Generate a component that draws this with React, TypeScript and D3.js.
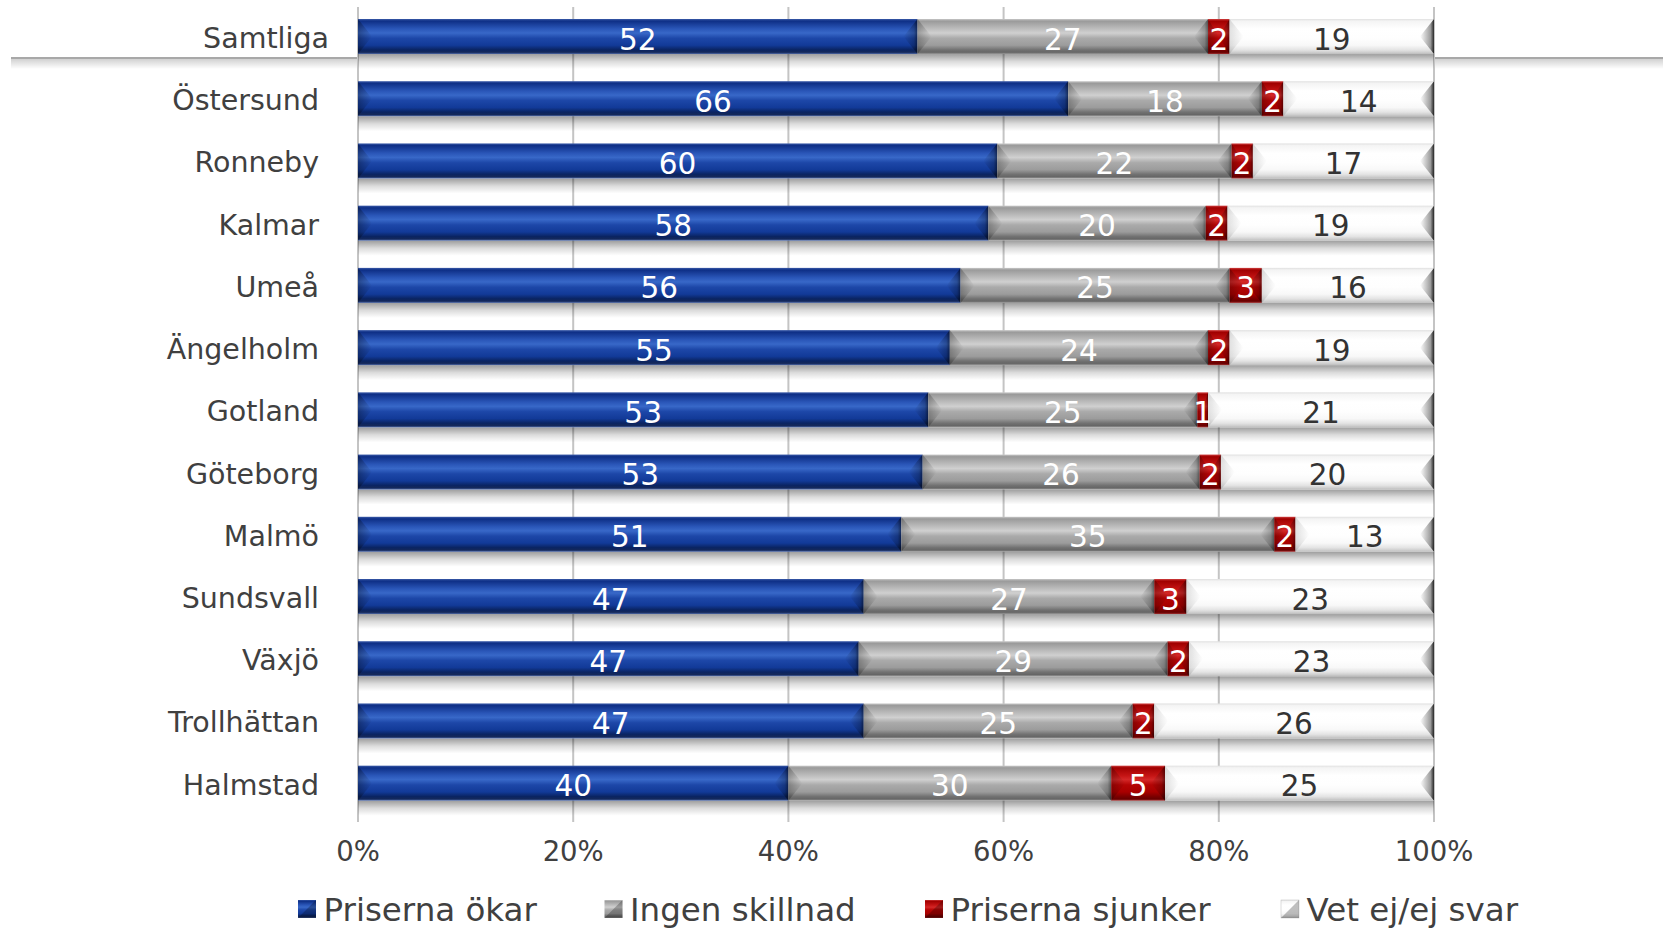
import React from "react";
import * as d3 from "d3";

const categories = ["Samtliga","Östersund","Ronneby","Kalmar","Umeå","Ängelholm","Gotland","Göteborg","Malmö","Sundsvall","Växjö","Trollhättan","Halmstad"];
const seriesNames = ["Priserna ökar","Ingen skillnad","Priserna sjunker","Vet ej/ej svar"];
const okar = [52,66,60,58,56,55,53,53,51,47,47,47,40];
const ingen = [27,18,22,20,25,24,25,26,35,27,29,25,30];
const sjunker = [2,2,2,2,3,2,1,2,2,3,2,2,5];
const vetej = [19,14,17,19,16,19,21,20,13,23,23,26,25];
const xTicks = [0,0.2,0.4,0.6,0.8,1];

const W = 1663, H = 931;
const FONT = "'DejaVu Sans', Verdana, sans-serif";

type Grad = { id: string; stops: [number, string][]; text: string; rightBevel: number; leftBevel: number };
const grads: Grad[] = [
  { id: "g0", text: "#ffffff", rightBevel: 0.55, leftBevel: 0.3,
    stops: [[0,"#3a5aa8"],[0.06,"#0e2f86"],[0.28,"#2a56b8"],[0.4,"#3868c8"],[0.55,"#1d47a8"],[0.75,"#123a98"],[0.88,"#0a2462"],[0.95,"#14285a"],[1,"#4f6aa8"]] },
  { id: "g1", text: "#ffffff", rightBevel: 0.5, leftBevel: 0.25,
    stops: [[0,"#c8c8c8"],[0.06,"#9a9a9a"],[0.28,"#bdbdbd"],[0.4,"#d0d0d0"],[0.55,"#aaaaaa"],[0.75,"#9c9c9c"],[0.88,"#727272"],[0.95,"#666666"],[1,"#9a9a9a"]] },
  { id: "g2", text: "#ffffff", rightBevel: 0.5, leftBevel: 0.25,
    stops: [[0,"#d04040"],[0.06,"#a00000"],[0.28,"#c41414"],[0.4,"#d42828"],[0.55,"#b40404"],[0.75,"#a80000"],[0.88,"#7c0000"],[0.95,"#680000"],[1,"#a03030"]] },
  { id: "g3", text: "#333333", rightBevel: 0.85, leftBevel: 0.12,
    stops: [[0,"#e0e0e0"],[0.06,"#f4f4f4"],[0.28,"#ffffff"],[0.55,"#fefefe"],[0.75,"#f8f8f8"],[0.88,"#e4e4e4"],[0.95,"#cfcfcf"],[1,"#bcbcbc"]] },
];

export default function App() {
  const data = categories.map((c, i) => {
    const vals = [okar[i], ingen[i], sjunker[i], vetej[i]];
    const sum = d3.sum(vals);
    return { cat: c, vals, sum };
  });

  const x = d3.scaleLinear().domain([0, 1]).range([358, 1434]);
  const y = d3.scaleBand<string>().domain(categories).range([5.4, 814.3]).paddingInner(0.437).paddingOuter(0.2185);
  const bw = y.bandwidth();

  const legendX = [298, 604.5, 925, 1281];
  const legendY = 909;

  return (
    <svg width={W} height={H} style={{ position: "absolute", left: 0, top: 0, background: "#fff" }} fontFamily={FONT}>
      <defs>
        {grads.map((g) => (
          <linearGradient key={g.id} id={g.id} x1="0" y1="0" x2="0" y2="1">
            {g.stops.map(([o, c], k) => <stop key={k} offset={o} stopColor={c} />)}
          </linearGradient>
        ))}
        {grads.map((g) => (
          <linearGradient key={g.id + "r"} id={g.id + "r"} x1="0" y1="0" x2="1" y2="0">
            <stop offset="0" stopColor="#000" stopOpacity="0" />
            <stop offset="0.75" stopColor="#000" stopOpacity={g.rightBevel * 0.45} />
            <stop offset="1" stopColor="#000" stopOpacity={g.rightBevel} />
          </linearGradient>
        ))}
        {grads.map((g) => (
          <linearGradient key={g.id + "l"} id={g.id + "l"} x1="0" y1="0" x2="1" y2="0">
            <stop offset="0" stopColor="#000" stopOpacity={g.leftBevel} />
            <stop offset="1" stopColor="#000" stopOpacity="0" />
          </linearGradient>
        ))}
        <linearGradient id="shadow" x1="0" y1="0" x2="0" y2="1">
          <stop offset="0" stopColor="#000" stopOpacity="0.38" />
          <stop offset="0.5" stopColor="#000" stopOpacity="0.14" />
          <stop offset="1" stopColor="#000" stopOpacity="0" />
        </linearGradient>
        <linearGradient id="lineshadow" x1="0" y1="0" x2="0" y2="1">
          <stop offset="0" stopColor="#000" stopOpacity="0.18" />
          <stop offset="1" stopColor="#000" stopOpacity="0" />
        </linearGradient>
      </defs>

      {/* separator line under Samtliga */}
      <g>
        <rect x={11} y={59} width={347} height={10} fill="url(#lineshadow)" />
        <rect x={1435} y={59} width={W - 1435} height={10} fill="url(#lineshadow)" />
        <line x1={11} x2={358} y1={58} y2={58} stroke="#a8a8a8" strokeWidth={2} />
        <line x1={1435} x2={W} y1={58} y2={58} stroke="#a8a8a8" strokeWidth={2} />
      </g>

      {/* gridlines */}
      {xTicks.map((t) => (
        <line key={t} x1={x(t)} x2={x(t)} y1={7} y2={822} stroke="#c4c4c4" strokeWidth={2} />
      ))}

      {/* bars */}
      {data.map((d) => {
        const y0 = y(d.cat)!;
        let cum = 0;
        return (
          <g key={d.cat}>
            <rect x={x(0)} y={y0 + bw} width={x(1) - x(0)} height={15} fill="url(#shadow)" />
            {d.vals.map((v, k) => {
              const x0 = x(cum / d.sum);
              cum += v;
              const x1 = x(cum / d.sum);
              const w = x1 - x0;
              const b = Math.min(14, w / 2);
              const mid = y0 + bw / 2;
              const g = grads[k];
              return (
                <g key={k}>
                  <rect x={x0} y={y0} width={w} height={bw} fill={`url(#${g.id})`} />
                  <polygon points={`${x0},${y0} ${x0 + b},${mid} ${x0},${y0 + bw}`} fill={`url(#${g.id}l)`} />
                  <polygon points={`${x1},${y0} ${x1 - b},${mid} ${x1},${y0 + bw}`} fill={`url(#${g.id}r)`} />
                </g>
              );
            })}
          </g>
        );
      })}

      {/* value labels */}
      {data.map((d) => {
        const y0 = y(d.cat)!;
        let cum = 0;
        return (
          <g key={d.cat + "l"}>
            {d.vals.map((v, k) => {
              const x0 = x(cum / d.sum);
              cum += v;
              const x1 = x(cum / d.sum);
              return (
                <text key={k} x={(x0 + x1) / 2} y={y0 + bw / 2 + 3} textAnchor="middle" dominantBaseline="central"
                  fontSize={29.5} fill={grads[k].text}>{v}</text>
              );
            })}
          </g>
        );
      })}

      {/* category labels */}
      {categories.map((c, i) => (
        <text key={c} x={i === 0 ? 329 : 319} y={y(c)! + bw / 2 + 2} textAnchor="end" dominantBaseline="central"
          fontSize={28.5} fill="#404040">{c}</text>
      ))}

      {/* x tick labels */}
      {xTicks.map((t) => (
        <text key={t} x={x(t)} y={851} textAnchor="middle" dominantBaseline="central" fontSize={27.5} fill="#404040">
          {d3.format(".0%")(t)}
        </text>
      ))}

      {/* legend */}
      {seriesNames.map((s, k) => {
        const lx = legendX[k];
        const g = grads[k];
        return (
          <g key={s}>
            <rect x={lx} y={legendY - 9} width={18} height={18} fill={`url(#${g.id})`} stroke={k === 3 ? "#bbb" : "none"} strokeWidth={0.5} />
            <polygon points={`${lx},${legendY + 9} ${lx + 18},${legendY - 9} ${lx + 18},${legendY + 9}`} fill="#000" opacity={0.25} />
            <text x={lx + 25.5} y={legendY + 1} dominantBaseline="central" fontSize={32.5} fill="#404040">{s}</text>
          </g>
        );
      })}
    </svg>
  );
}
